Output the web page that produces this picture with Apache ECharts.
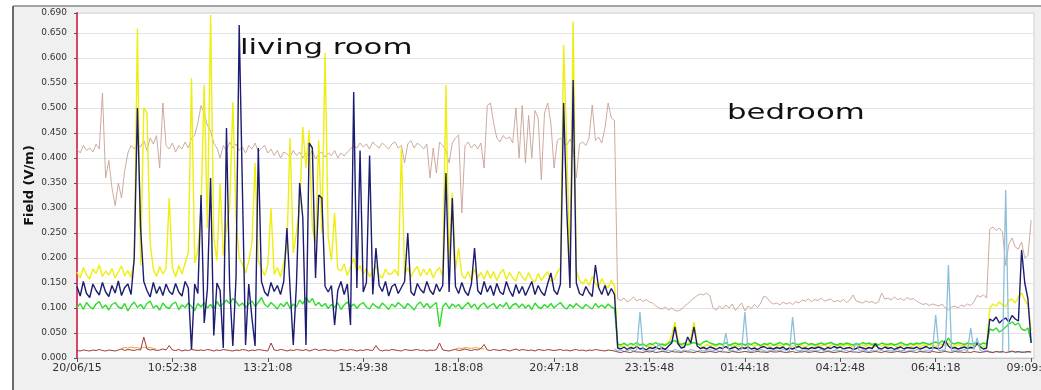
<!DOCTYPE html>
<html>
<head>
<meta charset="utf-8">
<script src="https://cdn.jsdelivr.net/npm/echarts@6/dist/echarts.min.js"></script>
<style>
  html, body { margin: 0; padding: 0; background: #ffffff; }
  #chart { width: 1041px; height: 390px; }
</style>
</head>
<body>
<div id="chart"></div>
<script>
// Time axis: one label every 30 samples
const timeLabels = ['20/06/15', '10:52:38', '13:21:08', '15:49:38', '18:18:08', '20:47:18',
                    '23:15:48', '01:44:18', '04:12:48', '06:41:18', '09:09:48'];
const samplesPerLabel = 30;

// Field readings in mV/m, one value per sample (living room, then bedroom, then morning)
const tanMv = [
  418,410,425,415,420,412,428,418,530,360,
  395,340,305,350,320,375,410,425,418,430,
  422,435,415,440,428,445,380,510,425,418,
  430,412,425,418,432,420,440,445,470,505,
  490,465,455,430,420,400,425,415,432,420,
  428,415,422,410,425,418,430,412,420,425,
  410,418,405,415,400,412,408,402,415,405,
  412,400,410,405,415,398,408,412,402,410,
  405,415,400,410,404,412,418,425,420,430,
  422,428,418,432,425,420,430,424,418,428,
  432,420,425,390,428,435,420,430,425,418,
  428,360,420,370,432,425,415,390,430,440,
  446,290,425,432,420,428,418,430,380,505,
  510,470,440,432,445,438,442,430,500,400,
  505,390,485,400,495,480,356,490,510,470,
  380,435,440,430,425,438,420,360,428,432,
  425,440,506,435,442,430,460,510,480,475,
  118,115,120,112,116,122,114,118,113,117,
  112,110,104,100,98,102,96,100,95,94,
  97,104,108,115,120,125,128,126,130,124,
  100,96,104,98,106,100,108,95,103,110,
  94,104,99,107,101,110,124,120,112,108,
  110,106,112,108,111,107,113,110,116,114,
  118,113,117,115,120,114,116,118,112,115,
  113,117,111,116,126,114,112,110,114,111,
  113,109,112,130,118,120,116,122,117,119,
  115,121,117,119,114,110,107,109,105,108,
  106,104,108,100,96,102,104,100,106,103,
  108,105,112,125,122,126,120,258,262,255,
  260,252,185,228,240,222,218,232,200,205,
  276
];

const yellowMv = [
  172,160,181,166,158,178,169,186,163,174,
  166,179,160,172,184,164,175,161,195,659,
  185,500,490,230,178,163,183,168,179,320,
  181,162,185,168,190,210,560,190,215,300,
  546,260,686,240,195,350,205,260,300,512,
  280,200,188,170,193,230,390,195,179,165,
  185,300,167,181,162,190,220,440,210,250,
  300,462,380,455,260,230,435,250,610,240,
  195,290,178,174,188,165,181,200,172,185,
  167,179,162,175,184,165,160,178,167,169,
  177,164,420,167,181,162,175,183,164,178,
  166,179,160,174,181,163,546,190,330,178,
  220,165,159,173,155,178,161,171,157,175,
  159,173,155,169,177,157,171,160,154,173,
  162,155,171,157,152,169,155,165,173,153,
  157,171,180,626,420,185,673,175,155,148,
  158,145,163,149,142,159,147,140,155,145,
  26,22,28,24,20,27,23,25,29,22,
  24,27,21,26,23,28,30,45,72,35,
  26,24,28,40,72,30,25,22,27,24,
  26,23,28,25,21,27,24,26,22,28,
  25,23,27,24,26,22,28,25,23,27,
  24,26,22,28,25,23,27,24,26,22,
  25,28,23,26,24,27,22,25,28,24,
  26,23,27,25,22,28,24,26,23,27,
  25,22,28,24,26,23,27,25,22,26,
  24,27,23,25,28,22,26,24,27,25,
  23,26,28,24,30,25,22,27,24,26,
  25,23,28,26,24,22,27,100,108,104,
  112,106,103,115,118,110,122,130,116,106,
  55
];

const navyMv = [
  143,124,153,129,121,148,135,126,151,132,
  123,145,130,154,125,141,148,127,200,500,
  260,153,135,122,151,129,143,125,148,133,
  127,149,132,124,153,140,16,148,129,326,
  70,138,360,45,150,135,20,460,142,24,
  160,666,340,26,148,80,24,420,153,132,
  124,151,133,145,127,153,260,138,26,148,
  350,280,26,430,420,160,326,320,143,132,
  145,66,135,153,127,148,66,532,140,415,
  132,151,405,127,220,145,133,153,124,143,
  148,129,141,153,250,132,125,149,137,130,
  153,135,127,148,133,145,370,132,320,143,
  129,151,133,125,148,220,135,127,153,132,
  145,125,149,132,127,153,135,123,147,129,
  143,125,139,153,127,145,132,125,149,170,
  135,127,148,510,296,140,556,150,129,125,
  143,131,123,186,141,127,145,125,139,127,
  20,18,22,17,21,19,23,18,20,16,
  21,19,22,18,20,17,24,30,62,28,
  20,22,42,30,62,24,19,21,18,22,
  20,17,21,19,23,18,20,22,17,21,
  19,22,18,20,17,21,23,19,20,18,
  21,19,22,17,20,18,21,23,19,20,
  18,21,19,22,20,17,21,19,23,20,
  22,18,20,21,17,19,22,20,18,21,
  19,28,20,18,22,19,21,17,20,22,
  18,21,20,19,22,18,20,23,19,21,
  20,18,22,35,24,19,21,18,20,22,
  19,21,20,30,22,18,20,78,74,82,
  70,76,80,72,85,78,74,216,150,118,
  30
];

const greenMv = [
  101,109,97,111,103,98,108,113,100,106,
  96,107,111,102,99,109,94,105,112,101,
  107,98,109,114,100,105,96,110,102,99,
  108,112,97,106,101,110,103,95,109,102,
  111,100,107,98,113,103,109,116,109,119,
  113,104,110,101,108,114,103,111,121,107,
  102,111,105,98,109,103,112,99,108,102,
  116,108,121,111,119,105,111,103,109,99,
  107,101,110,97,106,112,102,108,99,107,
  111,102,98,109,103,100,110,104,97,108,
  102,111,105,99,109,103,96,107,112,101,
  109,100,106,111,62,103,110,99,108,102,
  107,98,105,111,101,108,97,106,110,100,
  105,109,99,107,102,111,98,106,109,101,
  108,100,106,97,110,102,99,107,101,109,
  100,106,111,102,98,107,101,109,103,99,
  107,102,98,109,101,106,100,108,102,99,
  28,26,30,25,29,27,31,26,28,24,
  29,27,31,26,28,25,30,33,35,29,
  27,30,26,29,31,28,27,32,34,30,
  28,26,29,27,31,25,28,30,27,29,
  26,29,27,31,28,25,29,27,30,26,
  28,31,27,29,26,30,28,27,29,31,
  27,29,26,28,30,27,29,31,28,26,
  29,27,30,28,26,29,27,31,28,30,
  27,29,26,30,28,27,29,26,28,31,
  28,26,29,27,30,28,31,29,27,30,
  32,29,34,31,40,30,28,31,29,27,
  30,28,29,31,27,30,28,58,55,60,
  52,56,62,68,72,66,70,58,55,60,
  32
];

const darkRedMv = [
  15,14,16,15,14,16,15,17,15,14,
  16,15,14,16,18,15,17,16,15,17,
  16,42,18,16,17,15,16,18,16,25,
  16,15,17,14,16,15,17,16,15,16,
  15,17,16,14,16,15,17,16,15,14,
  16,15,17,16,14,16,15,17,16,15,
  14,30,16,15,17,16,14,16,15,17,
  16,15,17,14,16,18,15,16,17,15,
  16,14,15,17,16,15,17,16,14,16,
  15,17,16,15,25,16,14,16,15,17,
  16,15,14,17,16,15,16,17,15,16,
  14,16,15,17,30,16,15,14,16,17,
  15,16,18,16,15,17,16,19,27,16,
  15,17,16,15,17,16,14,16,18,15,
  17,16,15,16,14,17,16,15,17,16,
  15,16,17,15,16,14,16,17,15,16,
  14,16,15,17,16,15,14,16,15,14,
  12,11,13,12,11,13,12,12,11,13,
  12,13,11,12,13,12,11,13,12,12,
  11,13,12,12,11,13,12,11,12,13,
  12,11,13,12,12,11,13,12,11,12,
  13,12,11,12,13,12,12,11,13,12,
  12,13,12,11,12,13,11,12,12,13,
  11,12,13,12,11,12,13,12,11,12,
  13,12,11,13,12,12,11,13,12,11,
  12,13,12,11,13,12,11,12,13,12,
  11,12,13,12,11,13,12,12,11,13,
  12,11,12,13,12,11,13,12,12,11,
  12,11,13,12,11,12,13,12,11,13,
  12,13,11,12,14,12,13,11,12,13,
  12
];

// Light-blue sensor, logged from sample 169 onward
const lightBlueStart = 169;
const lightBlueMv = [
  18,
  14,16,13,15,17,14,16,92,15,13,
  16,14,17,30,15,13,16,14,17,15,
  13,16,14,17,15,13,16,14,15,17,
  14,16,13,15,50,14,16,13,15,17,
  92,15,13,16,14,17,15,13,16,14,
  16,14,17,15,13,82,16,14,15,17,
  13,16,14,15,17,14,16,13,15,16,
  14,17,15,13,16,30,14,16,15,13,
  16,14,17,15,13,16,14,15,17,14,
  15,13,16,14,17,15,13,16,14,15,
  86,14,16,15,186,13,16,14,15,17,
  14,60,16,40,15,13,16,12,11,13,
  12,11,336,12,13,11,12,13,11,12,
  12
];

// Short orange traces near the floor: [sample, mV/m]
const orangeMv = [
  [14,19],[15,21],[16,20],[17,22],[18,20],[19,21],[20,19],[21,22],[22,20],[23,21],[24,19],[25,18],
  [26,null],
  [119,18],[120,20],[121,19],[122,21],[123,20],[124,19],[125,21],[126,20],[127,19],[128,18]
];

const toPoints = (arr, start) => arr.map((v, j) => [start + j, v / 1000]);
const labelTicks = timeLabels.map((_, k) => k * samplesPerLabel);
const lastIndex = tanMv.length - 1;
const xMax = lastIndex + 0.9;

const lineSeries = (name, data, color, width, opacity) => ({
  name, type: 'line', data, showSymbol: false, symbol: 'none',
  xAxisIndex: 0, yAxisIndex: 0, sampling: null, silent: true,
  lineStyle: { color, width, opacity: opacity == null ? 1 : opacity },
  emphasis: { disabled: true }
});

const chart = echarts.init(document.getElementById('chart'), null, { renderer: 'canvas' });

chart.setOption({
  backgroundColor: '#f0f0f0',
  animation: false,
  grid: {
    left: 77, right: 7, top: 13, bottom: 32,
    containLabel: false, outerBoundsMode: 'none',
    show: true, backgroundColor: '#ffffff', borderColor: '#cfcfcf', borderWidth: 1
  },
  xAxis: [
    {
      type: 'value', min: 0, max: xMax, position: 'bottom',
      axisLine: { show: true, lineStyle: { color: '#c4c4c4' } },
      axisTick: { show: false }, axisLabel: { show: false }, splitLine: { show: false }
    },
    {
      type: 'value', min: 0, max: xMax, position: 'bottom', offset: 2,
      axisLine: { show: false },
      axisTick: { show: true, length: 4, customValues: labelTicks, lineStyle: { color: '#555' } },
      axisLabel: {
        customValues: labelTicks,
        formatter: v => timeLabels[Math.round(v / samplesPerLabel)] || '',
        alignMinLabel: 'center', alignMaxLabel: 'center',
        margin: 3, fontFamily: 'DejaVu Sans', fontSize: 11, color: '#333'
      },
      splitLine: { show: false }
    }
  ],
  yAxis: [
    {
      type: 'value', min: 0, max: 0.69, interval: 0.05, position: 'left',
      axisLine: { show: true, lineStyle: { color: '#d8466c', width: 2 } },
      axisTick: { show: false }, axisLabel: { show: false },
      splitLine: { show: true, lineStyle: { color: '#e2e2e2', width: 1 } }
    },
    {
      type: 'value', min: 0, max: 0.69, interval: 0.05, position: 'left', offset: 5,
      name: 'Field (V/m)', nameLocation: 'middle', nameGap: 36, nameMoveOverlap: false,
      nameTextStyle: { fontFamily: 'DejaVu Sans', fontWeight: 'bold', fontSize: 13, color: '#111' },
      axisLine: { show: false },
      axisTick: { show: true, length: 3, lineStyle: { color: '#555' } },
      axisLabel: { formatter: v => v.toFixed(3), margin: 5, fontFamily: 'DejaVu Sans', fontSize: 9, color: '#333' },
      splitLine: { show: false }
    }
  ],
  series: [
    lineSeries('tan', toPoints(tanMv, 0), '#c8a294', 1, 0.9),
    lineSeries('yellow', toPoints(yellowMv, 0), '#eeee10', 1.4),
    lineSeries('green', toPoints(greenMv, 0), '#2fdc2f', 1.4),
    lineSeries('navy', toPoints(navyMv, 0), '#1c1c72', 1.4),
    lineSeries('lightBlue', toPoints(lightBlueMv, lightBlueStart), '#8cbfdb', 1.3),
    lineSeries('orange', orangeMv.map(p => [p[0], p[1] == null ? null : p[1] / 1000]), '#f0a040', 1),
    lineSeries('darkRed', toPoints(darkRedMv, 0), '#9e3b2f', 1)
  ],
  graphic: [
    { type: 'rect', silent: true, z: -10, shape: { x: 0, y: 0, width: 13, height: 390 }, style: { fill: '#ffffff' } },
    { type: 'rect', silent: true, z: -10, shape: { x: 0, y: 0, width: 1041, height: 6 }, style: { fill: '#ffffff' } },
    { type: 'line', silent: true, z: 5, shape: { x1: 13, y1: 6, x2: 1041, y2: 6 }, style: { stroke: '#a5a5a5', lineWidth: 2 } },
    { type: 'line', silent: true, z: 5, shape: { x1: 13, y1: 6, x2: 13, y2: 390 }, style: { stroke: '#6a6a6a', lineWidth: 2 } },
    {
      type: 'text', silent: true, z: 100, x: 240, y: 37, scaleX: 1.4,
      style: { text: 'living room', font: '22px "DejaVu Sans"', fill: '#111', textVerticalAlign: 'top' }
    },
    {
      type: 'text', silent: true, z: 100, x: 727, y: 102, scaleX: 1.4,
      style: { text: 'bedroom', font: '22px "DejaVu Sans"', fill: '#111', textVerticalAlign: 'top' }
    }
  ]
});
</script>
</body>
</html>
